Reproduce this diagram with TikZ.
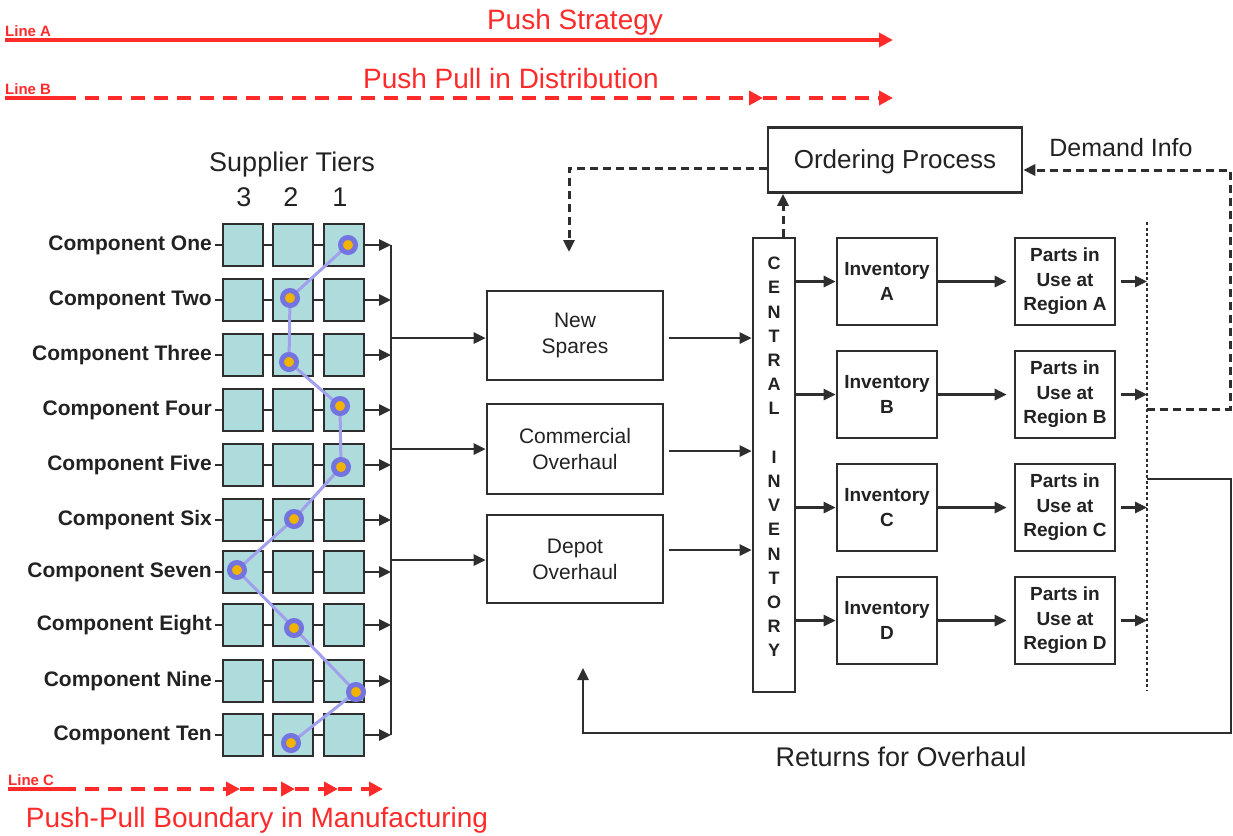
\documentclass[tikz,border=0pt]{standalone}
\usepackage{fontspec}
\setmainfont{Liberation Sans}
\usetikzlibrary{arrows.meta,calc}
\definecolor{redline}{HTML}{FF2A2A}
\definecolor{ink}{HTML}{2E2E2E}
\definecolor{txt}{HTML}{222222}
\definecolor{tealc}{HTML}{AEDCDC}
\definecolor{ringc}{HTML}{7474E0}
\definecolor{dotc}{HTML}{F2B300}
\definecolor{pathc}{HTML}{A0A0EC}
\tikzset{
 cell/.style={draw=ink, fill=tealc, line width=2.2pt, minimum width=40pt, minimum height=42pt, inner sep=0pt},
 box/.style={draw=ink, line width=2.6pt, inner sep=0pt, align=center, text=txt},
 conn/.style={draw=ink, line width=2.6pt, -{Triangle[length=12pt,width=11pt]}},
 plainln/.style={draw=ink, line width=2.6pt},
 dotln/.style={draw=ink, line width=1.8pt, dash pattern=on 3pt off 2.5pt},
 dashln/.style={draw=ink, line width=3pt, dash pattern=on 8pt off 5pt},
 redsolid/.style={draw=redline, line width=3.5pt},
 reddash/.style={draw=redline, line width=3.5pt, dash pattern=on 14pt off 9pt},
 redtip/.style={-{Triangle[length=14pt,width=14pt]}},
 linelab/.style={font=\bfseries\fontsize{15}{15}\selectfont, text=redline, inner sep=0pt, anchor=south west},
 redtitle/.style={font=\fontsize{28}{30}\selectfont, text=redline, inner sep=0pt},
 complabel/.style={anchor=east, font=\bfseries\fontsize{21}{24}\selectfont, text=txt, inner xsep=3pt, inner ysep=0pt},
 pdot/.style={circle, fill=dotc, draw=ringc, line width=5pt, minimum size=15pt, inner sep=0pt},
 smallbox/.style={box, minimum width=100pt, font=\bfseries\fontsize{19}{24.5}\selectfont},
 midbox/.style={box, minimum width=176pt, font=\fontsize{21}{26}\selectfont},
}
\begin{document}
\begin{tikzpicture}[x=1pt,y=-1pt]
\useasboundingbox (0,0) rectangle (1233,835);

% ---- red strategy lines
\node[linelab] (la) at (5,37) {Line A};
\coordinate (la0) at (5,40);
\coordinate (la1) at (893,40);
\draw[redsolid, redtip] (la0) -- (la1);
\node[redtitle] (pushs) at (575,22) {Push Strategy};

\node[linelab] (lb) at (5,95) {Line B};
\coordinate (lb0) at (5,98);
\coordinate (lb1) at (62,98);
\coordinate (lb2) at (763,98);
\coordinate (lb3) at (893,98);
\draw[redsolid] (lb0) -- (lb1);
\draw[reddash, redtip] (lb1) -- (lb2);
\draw[reddash, redtip] (lb2) -- (lb3);
\node[redtitle] (ppd) at (511,78) {Push Pull in Distribution};

\node[linelab] (lc) at (8,786) {Line C};
\coordinate (lc0) at (8,789);
\coordinate (lc1) at (62,789);
\coordinate (lc2) at (240,789);
\coordinate (lc3) at (295,789);
\coordinate (lc4) at (338,789);
\coordinate (lc5) at (383,789);
\draw[redsolid] (lc0) -- (lc1);
\draw[reddash, redtip] (lc1) -- (lc2);
\draw[reddash, redtip] (lc2) -- (lc3);
\draw[reddash, redtip] (lc3) -- (lc4);
\draw[reddash, redtip] (lc4) -- (lc5);
\node[redtitle] (ppb) at (257,820) {Push-Pull Boundary in Manufacturing};

% ---- supplier tiers
\node[font=\fontsize{27}{30}\selectfont, text=txt, inner sep=0pt] (st) at (292,165) {Supplier Tiers};
\node[font=\fontsize{27}{30}\selectfont, text=txt, inner sep=0pt] (t3) at (244,197) {3};
\node[font=\fontsize{27}{30}\selectfont, text=txt, inner sep=0pt] (t2) at (291,197) {2};
\node[font=\fontsize{27}{30}\selectfont, text=txt, inner sep=0pt] (t1) at (340,197) {1};

\foreach \y/\n [count=\r] in {245/One,300/Two,355/Three,410/Four,465/Five,520/Six,572/Seven,625/Eight,681/Nine,735/Ten}{
  \node[complabel] (l\r) at (215,\y) {Component \n};
  \node[cell] (c\r-3) at (243,\y) {};
  \node[cell] (c\r-2) at (293,\y) {};
  \node[cell] (c\r-1) at (344,\y) {};
  \draw[plainln] (l\r.east) -- (c\r-3.west);
  \draw[plainln] (c\r-3.east) -- (c\r-2.west);
  \draw[plainln] (c\r-2.east) -- (c\r-1.west);
  \coordinate (bus\r) at (391,\y);
  \draw[conn] (c\r-1.east) -- (bus\r);
}
\draw[plainln] (bus1) -- (bus10);

% ---- purple path with dots
\coordinate (d1) at (348,245);
\coordinate (d2) at (290,298);
\coordinate (d3) at (289,362);
\coordinate (d4) at (340,406);
\coordinate (d5) at (341,467);
\coordinate (d6) at (294,519);
\coordinate (d7) at (237,570);
\coordinate (d8) at (294,628);
\coordinate (d9) at (356,692);
\coordinate (d10) at (291,743);
\draw[pathc, line width=3pt] (d1) -- (d2) -- (d3) -- (d4) -- (d5) -- (d6) -- (d7) -- (d8) -- (d9) -- (d10);
\foreach \i in {1,...,10}{ \node[pdot] (p\i) at (d\i) {}; }

% ---- middle boxes
\node[midbox, minimum height=89pt] (ns) at (575,335.5) {New\\Spares};
\node[midbox, minimum height=90pt] (co) at (575,449) {Commercial\\Overhaul};
\node[midbox, minimum height=88pt] (dp) at (575,559) {Depot\\Overhaul};

\coordinate (o1) at (391,338);
\coordinate (o2) at (391,449);
\coordinate (o3) at (391,560);
\draw[conn] (o1) -- (o1 -| ns.west);
\draw[conn] (o2) -- (o2 -| co.west);
\draw[conn] (o3) -- (o3 -| dp.west);

% ---- central inventory
\node[box, minimum width=42pt, minimum height=454pt] (ci) at (774,465) {};
\node[font=\bfseries\fontsize{18}{24.2}\selectfont, text=txt, align=center, inner sep=0pt] (cit) at (774,457)
 {C\\E\\N\\T\\R\\A\\L\\[24.2pt]I\\N\\V\\E\\N\\T\\O\\R\\Y};

\coordinate (m1) at (669,338);
\coordinate (m2) at (669,451);
\coordinate (m3) at (669,550);
\draw[conn] (m1) -- (m1 -| ci.west);
\draw[conn] (m2) -- (m2 -| ci.west);
\draw[conn] (m3) -- (m3 -| ci.west);

% ---- inventories and regions
\foreach \y/\L [count=\k] in {281.5/A,394.5/B,507.5/C,620.5/D}{
  \node[smallbox, minimum height=87pt] (inv\k) at (887,\y) {Inventory\\\L};
  \node[smallbox, minimum height=87pt] (pr\k) at (1065,\y) {Parts in\\Use at\\Region \L};
  \draw[conn] (inv\k.west -| ci.east) -- (inv\k.west);
  \draw[conn, shorten >=7pt] (inv\k.east) -- (pr\k.west);
  \coordinate (g\k) at (1147,\y);
  \draw[conn] ([xshift=5pt]pr\k.east) -- (g\k);
}
\coordinate (gtop) at (1147,222);
\coordinate (gbot) at (1147,690);
\draw[dotln] (gtop) -- (gbot);

% ---- ordering process
\node[box, minimum width=254pt, minimum height=65pt] (op) at (895,160) {};
\node[font=\fontsize{26}{30}\selectfont, text=txt, inner sep=0pt] (opt) at (895,162) {Ordering Process};
\node[font=\fontsize{25}{28}\selectfont, text=txt, inner sep=0pt] (di) at (1121,148) {Demand Info};

\coordinate (dd0) at (1147,409);
\coordinate (dd1) at (1230,409);
\coordinate (dd2) at (1230,170);
\draw[dashln, -{Triangle[length=12pt,width=11pt]}] (dd0) -- (dd1) -- (dd2) -- (dd2 -| op.east);

\draw[dashln, -{Triangle[length=12pt,width=11pt]}] ([xshift=9pt]ci.north) -- ([xshift=9pt]ci.north |- op.south);

\coordinate (ol1) at (569,168);
\coordinate (ol2) at (569,252);
\draw[dashln, -{Triangle[length=12pt,width=11pt]}] (ol1 -| op.west) -- (ol1) -- (ol2);

% ---- returns loop
\coordinate (r0) at (1147,479);
\coordinate (r1) at (1231,479);
\coordinate (r2) at (1231,733);
\coordinate (r3) at (583,733);
\coordinate (r4) at (583,668);
\draw[plainln, -{Triangle[length=12pt,width=11pt]}] (r0) -- (r1) -- (r2) -- (r3) -- (r4);
\node[font=\fontsize{27}{30}\selectfont, text=txt, inner sep=0pt] (ret) at (901,757) {Returns for Overhaul};
\end{tikzpicture}
\end{document}
